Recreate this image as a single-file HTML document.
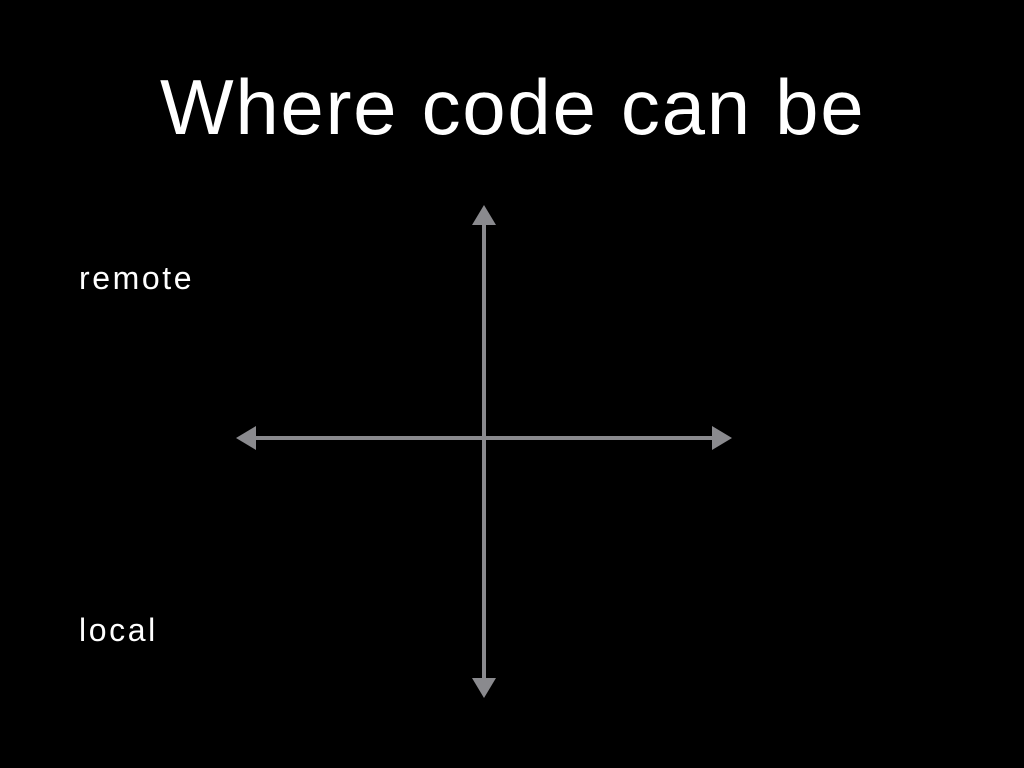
<!DOCTYPE html>
<html><head><meta charset="utf-8"><style>
html,body{margin:0;padding:0;background:#000;width:1024px;height:768px;overflow:hidden;position:relative;font-family:"Liberation Sans",sans-serif;color:#fff}
.t{position:absolute;left:160px;top:62px;white-space:nowrap;font-size:78px;line-height:90px;letter-spacing:1.7px}
.l{position:absolute;font-size:32px;line-height:36px;letter-spacing:2.6px}
</style></head><body>
<div class="t">Where code can be</div>
<div class="l" style="left:79px;top:260px">remote</div>
<div class="l" style="left:79px;top:612px">local</div>
<svg width="1024" height="768" style="position:absolute;left:0;top:0">
<g stroke="#8a8a8e" stroke-width="4" fill="#8a8a8e">
<line x1="484" y1="220" x2="484" y2="684"/>
<line x1="250" y1="438" x2="718" y2="438"/>
</g>
<g fill="#8a8a8e">
<polygon points="484,205 472,225 496,225"/>
<polygon points="484,698 472,678 496,678"/>
<polygon points="236,438 256,426 256,450"/>
<polygon points="732,438 712,426 712,450"/>
</g>
</svg>
</body></html>
